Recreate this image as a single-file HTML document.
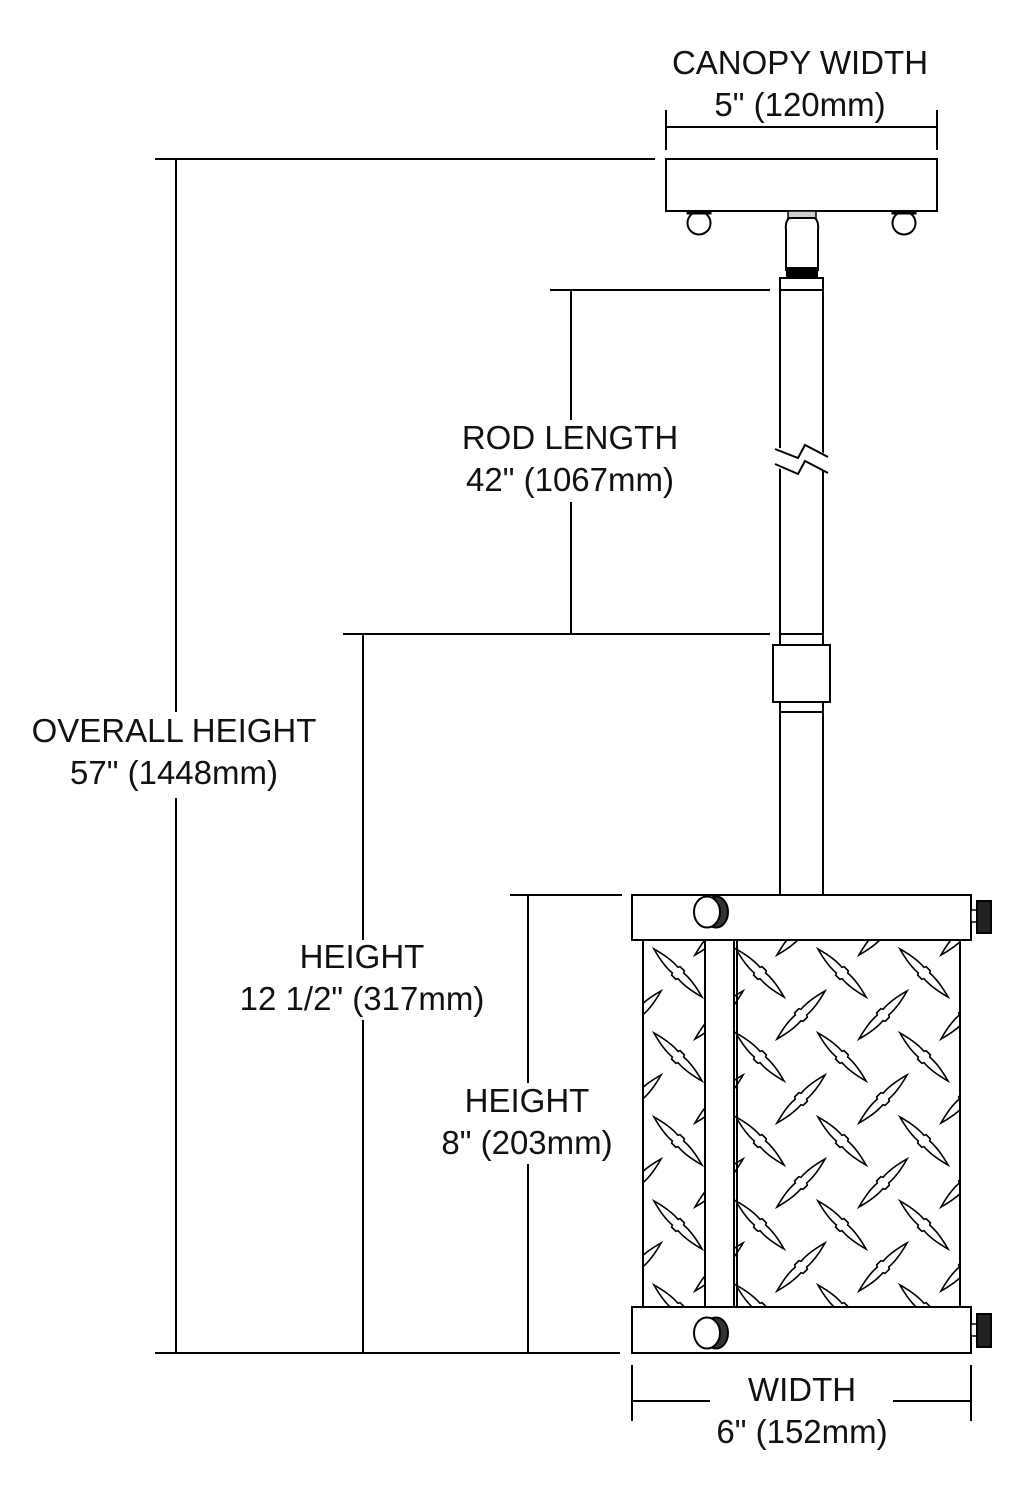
<!DOCTYPE html>
<html><head><meta charset="utf-8"><style>html,body{margin:0;padding:0;background:#fff}svg{display:block}</style></head>
<body>
<svg width="1021" height="1500" viewBox="0 0 1021 1500" xmlns="http://www.w3.org/2000/svg">
<defs>
<g id="leaf"><path d="M-34,0 Q-16,-5 -4,-4 L-3,-6 L3,-6 L4,-4 Q16,-5 34,0 Q16,5 4,4 L3,6 L-3,6 L-4,4 Q-16,5 -34,0 Z" fill="#fff" stroke="#000" stroke-width="1.6"/></g>
<pattern id="dp" patternUnits="userSpaceOnUse" x="637" y="931" width="82" height="84">
<use href="#leaf" transform="translate(41,42) rotate(45)"/>
<use href="#leaf" transform="translate(0,0) rotate(-45)"/>
<use href="#leaf" transform="translate(82,0) rotate(-45)"/>
<use href="#leaf" transform="translate(0,84) rotate(-45)"/>
<use href="#leaf" transform="translate(82,84) rotate(-45)"/>
</pattern>
</defs>
<g font-family="Liberation Sans, sans-serif" font-size="33" text-anchor="middle" fill="#111">
<text x="800" y="74">CANOPY WIDTH</text>
<text x="800" y="116">5" (120mm)</text>
<text x="174" y="742">OVERALL HEIGHT</text>
<text x="174" y="784">57" (1448mm)</text>
<text x="570" y="449">ROD LENGTH</text>
<text x="570" y="491">42" (1067mm)</text>
<text x="362" y="968">HEIGHT</text>
<text x="362" y="1010">12 1/2" (317mm)</text>
<text x="527" y="1112">HEIGHT</text>
<text x="527" y="1154">8" (203mm)</text>
<text x="802" y="1401">WIDTH</text>
<text x="802" y="1443">6" (152mm)</text>
</g>
<g stroke="#000" stroke-width="2" fill="none">
<line x1="666" y1="127" x2="937" y2="127"/>
<line x1="666" y1="110" x2="666" y2="150"/>
<line x1="937" y1="110" x2="937" y2="150"/>
<line x1="155" y1="159" x2="655" y2="159"/>
<line x1="176" y1="159" x2="176" y2="712"/>
<line x1="176" y1="798" x2="176" y2="1353"/>
<line x1="155" y1="1353" x2="620" y2="1353"/>
<line x1="550" y1="290" x2="770" y2="290"/>
<line x1="571" y1="290" x2="571" y2="420"/>
<line x1="571" y1="502" x2="571" y2="634"/>
<line x1="343" y1="634" x2="770" y2="634"/>
<line x1="363" y1="634" x2="363" y2="940"/>
<line x1="363" y1="1020" x2="363" y2="1353"/>
<line x1="510" y1="895" x2="622" y2="895"/>
<line x1="528" y1="895" x2="528" y2="1083"/>
<line x1="528" y1="1164" x2="528" y2="1353"/>
<line x1="632" y1="1365" x2="632" y2="1421"/>
<line x1="971" y1="1365" x2="971" y2="1421"/>
<line x1="632" y1="1401" x2="710" y2="1401"/>
<line x1="893" y1="1401" x2="971" y2="1401"/>
</g>
<g stroke="#000" stroke-width="2" fill="#fff">
<rect x="666" y="159" width="271" height="52"/>
<circle cx="699" cy="223" r="11.5"/>
<circle cx="904" cy="223" r="11.5"/>
<rect x="687" y="211" width="24" height="3" fill="#000" stroke-width="1"/>
<rect x="892" y="211" width="24" height="3" fill="#000" stroke-width="1"/>
<rect x="788" y="211" width="28" height="7" fill="#ccc" stroke-width="1.5"/>
<path d="M789,218 L815,218 Q819,222 818,230 L818,270 L786,270 L786,230 Q785,222 789,218 Z"/>
<rect x="787" y="268" width="30" height="10" fill="#000"/>
<rect x="780" y="278" width="43" height="617"/>
<rect x="780" y="278" width="43" height="12"/>
<rect x="780" y="634" width="43" height="11"/>
<rect x="780" y="702" width="43" height="10"/>
<rect x="773" y="645" width="57" height="57"/>
</g>
<polygon points="775,449 798,445 805,437 828,457 828,472 803,462 797,475 775,467" fill="#fff"/>
<g stroke="#000" stroke-width="2" fill="none">
<polyline points="775,449 798,458 805,445 828,457"/>
<polyline points="775,464 798,474 805,461 828,473"/>
</g>
<rect x="643" y="940" width="317" height="367" fill="url(#dp)" stroke="#000" stroke-width="2"/>
<rect x="705" y="940" width="29" height="367" fill="#fff" stroke="#000" stroke-width="2"/>
<line x1="737" y1="940" x2="737" y2="1307" stroke="#000" stroke-width="2"/>
<g stroke="#000" stroke-width="2" fill="#fff">
<rect x="632" y="895" width="339" height="45"/>
<rect x="632" y="1307" width="339" height="46"/>
<ellipse cx="716" cy="912" rx="12" ry="15.5" fill="#333"/>
<ellipse cx="707" cy="912" rx="13" ry="15.5"/>
<ellipse cx="716" cy="1333" rx="12" ry="15.5" fill="#333"/>
<ellipse cx="707" cy="1333" rx="13" ry="15.5"/>
<rect x="971" y="910" width="6" height="12" stroke-width="1.5"/>
<rect x="977" y="901" width="14" height="32" fill="#222"/>
<rect x="971" y="1324" width="6" height="12" stroke-width="1.5"/>
<rect x="977" y="1314" width="14" height="33" fill="#222"/>
</g>
</svg>
</body></html>
